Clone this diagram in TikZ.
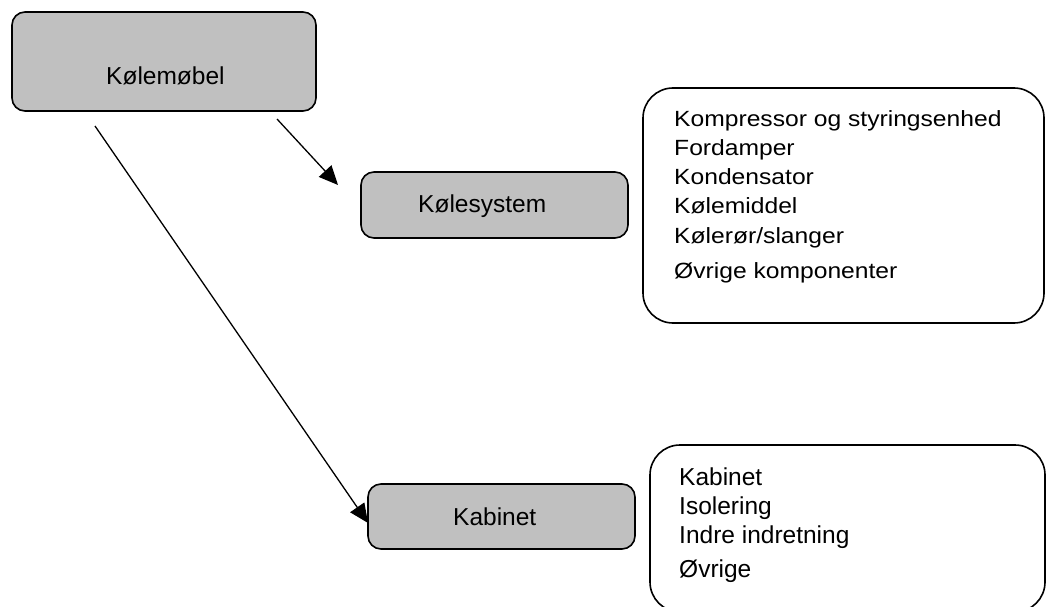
\documentclass[tikz,border=0pt]{standalone}
\usepackage{fontspec}
\setmainfont{Liberation Sans}
\newfontfamily\widefont[FakeStretch=1.12]{Liberation Sans}
\usetikzlibrary{arrows.meta}
\definecolor{boxgray}{HTML}{C0C0C0}
\begin{document}
\begin{tikzpicture}[x=1pt,y=-1pt,
  box/.style={draw=black, line width=1.6pt, rounded corners=13pt, inner sep=0pt, fill=boxgray},
  listbox/.style={draw=black, line width=1.6pt, rounded corners=30pt, inner sep=0pt, fill=white},
  txt/.style={inner sep=0pt, anchor=base west, font=\fontsize{24.5}{29}\selectfont},
  wtxt/.style={inner sep=0pt, anchor=base west, font=\widefont\fontsize{22}{26}\selectfont},
  arr/.style={line width=1.3pt, -{Triangle[length=19pt,width=17pt]}}]
\useasboundingbox (0,0) rectangle (1046,607);
\clip (0,0) rectangle (1046,607);
% boxes
\node[box, minimum width=304pt, minimum height=99pt] (mob) at (164,61.5) {};
\node[box, minimum width=267pt, minimum height=66pt] (sys) at (494.5,205) {};
\node[box, minimum width=267pt, minimum height=65pt] (kab) at (501.5,516.5) {};
\node[listbox, minimum width=401pt, minimum height=235pt] (list1) at (843.5,205.5) {};
\node[listbox, minimum width=395pt, minimum height=167pt] (list2) at (847.5,528.5) {};
% labels
\node[txt] (tmob) at (106,85) {Kølemøbel};
\node[txt] (tsys) at (418,212) {Kølesystem};
\node[txt] (tkab) at (453,525) {Kabinet};
% list 1
\node[wtxt] (l1a) at (674,127) {Kompressor og styringsenhed};
\node[wtxt] (l1b) at (674,155) {Fordamper};
\node[wtxt] (l1c) at (674,184) {Kondensator};
\node[wtxt] (l1d) at (674,213) {Kølemiddel};
\node[wtxt] (l1e) at (674,243) {Kølerør/slanger};
\node[wtxt] (l1f) at (674,278) {Øvrige komponenter};
% list 2
\node[txt] (l2a) at (679,485) {Kabinet};
\node[txt] (l2b) at (679,514) {Isolering};
\node[txt] (l2c) at (679,543) {Indre indretning};
\node[txt] (l2d) at (679,577) {Øvrige};
% arrows
\coordinate (a1s) at (277,119);
\coordinate (a1e) at (338,185);
\coordinate (a2s) at (95,126);
\coordinate (a2e) at (368,523);
\draw[arr] (a1s) -- (a1e);
\draw[arr] (a2s) -- (a2e);
\end{tikzpicture}
\end{document}
